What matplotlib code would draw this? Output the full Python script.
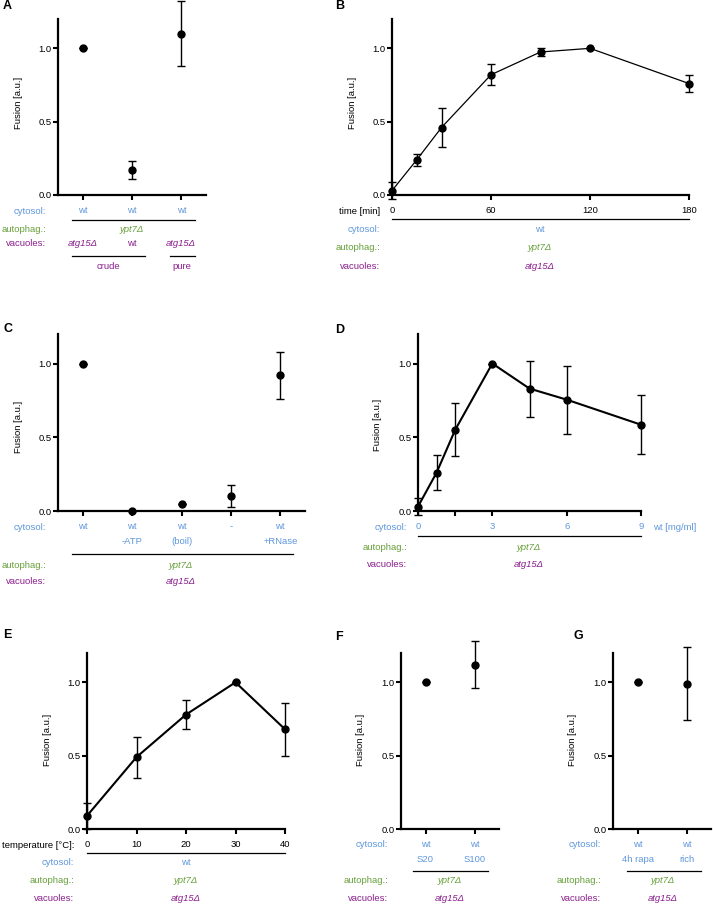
import os
import matplotlib
matplotlib.use('Agg')
import matplotlib.pyplot as plt
import matplotlib.font_manager as fm
from matplotlib.lines import Line2D

###
### Data
###
# A: cytosol / vacuole sources
a_x      = [0.5, 1.5, 2.5]
a_y      = [1.00, 0.17, 1.10]
a_err    = [0.00, 0.06, 0.22]
a_ticks  = ['wt', 'wt', 'wt']

# B: time course
b_time   = [0, 15, 30, 60, 90, 120, 180]
b_y      = [0.03, 0.24, 0.46, 0.82, 0.975, 1.00, 0.76]
b_err    = [0.06, 0.04, 0.13, 0.07, 0.03, 0.00, 0.06]

# C: cytosol treatments
c_x      = [0.5, 1.5, 2.5, 3.5, 4.5]
c_y      = [1.00, 0.00, 0.05, 0.10, 0.92]
c_err    = [0.00, 0.00, 0.00, 0.075, 0.16]
c_ticks  = ['wt', 'wt\n-ATP', 'wt\n(boil)', '-', 'wt\n+RNase']

# D: cytosol concentration
d_conc   = [0, 0.75, 1.5, 3, 4.5, 6, 9]
d_y      = [0.03, 0.26, 0.55, 1.00, 0.83, 0.755, 0.585]
d_err    = [0.06, 0.12, 0.18, 0.00, 0.19, 0.23, 0.20]

# E: temperature
e_temp   = [0, 10, 20, 30, 40]
e_y      = [0.09, 0.49, 0.78, 1.00, 0.68]
e_err    = [0.09, 0.14, 0.10, 0.00, 0.18]

# F: cytosol fractions
f_x      = [0.5, 1.5]
f_y      = [1.00, 1.12]
f_err    = [0.00, 0.16]
f_ticks  = ['wt\nS20', 'wt\nS100']

# G: cytosol growth condition
g_x      = [0.5, 1.5]
g_y      = [1.00, 0.99]
g_err    = [0.00, 0.25]
g_ticks  = ['wt\n4h rapa', 'wt\nrich']

###
### Fonts: look for a narrow sans, otherwise fall back to a smaller Liberation Sans
###
def find_font(names):
    for n in names:
        for f in fm.fontManager.ttflist:
            if os.path.basename(f.fname) == n:
                return f.fname
    return None

reg_file = find_font(['LiberationSansNarrow-Regular.ttf', 'NotoSans-SemiCondensed.ttf',
                      'NotoSans-Condensed.ttf', 'OpenSans-CondensedRegular.ttf'])
ita_file = find_font(['LiberationSansNarrow-Italic.ttf', 'NotoSans-SemiCondensedItalic.ttf',
                      'NotoSans-CondensedItalic.ttf', 'OpenSans-CondensedLightItalic.ttf'])
if reg_file and ita_file:
    FS = 7.2
    FP  = fm.FontProperties(fname=reg_file, size=FS)
    FPI = fm.FontProperties(fname=ita_file, size=FS)
else:
    FS = 6.8
    FP  = fm.FontProperties(family=['Liberation Sans', 'DejaVu Sans'], size=FS)
    FPI = fm.FontProperties(family=['Liberation Sans', 'DejaVu Sans'], style='italic', size=FS)

###
### Style
###
W, H   = 713, 905
BLUE   = '#5f97dc'
GREEN  = '#67a03a'
PURPLE = '#8a1f8c'
plt.rcParams['font.family'] = ['Liberation Sans', 'DejaVu Sans']

fig = plt.figure(figsize=(W/100, H/100), dpi=100)

def make_ax(x0, y0, x1, y1):
    # pixel box -> axes
    ax = fig.add_axes([x0/W, 1-y1/H, (x1-x0)/W, (y1-y0)/H])
    for s in ['top', 'right']:
        ax.spines[s].set_visible(False)
    for s in ['left', 'bottom']:
        ax.spines[s].set_linewidth(1.6)
    ax.set_ylim(0, 1.2)
    ax.set_yticks([0, 0.5, 1.0])
    ax.set_yticklabels(['0.0', '0.5', '1.0'], fontproperties=FP)
    ax.tick_params(axis='y', length=3.5, width=1.5, pad=1.0)
    ax.tick_params(axis='x', length=3.5, width=1.5, pad=4.2)
    ax.set_ylabel('Fusion [a.u.]', fontproperties=FP)
    return ax

def xticks(ax, pos, labels, color='k', ls=None):
    ax.set_xticks(pos)
    ax.set_xticklabels(labels, fontproperties=FP, color=color)
    if ls:
        for t in ax.get_xticklabels():
            t.set_linespacing(ls)

def ylab(ax, x, y, x0, y0, x1, y1):
    ax.yaxis.set_label_coords((x-x0)/(x1-x0), (y1-y)/(y1-y0))

def ftext(x, y, s, color='k', ha='center', italic=False):
    fig.text(x/W, 1-y/H, s, ha=ha, va='center', color=color,
             fontproperties=FPI if italic else FP)

def fline(x0, x1, y):
    fig.add_artist(Line2D([x0/W, x1/W], [1-y/H, 1-y/H], color='k', lw=0.9))

def points(ax, x, y, err, lw=None):
    if lw is not None:
        ax.plot(x, y, color='k', lw=lw, clip_on=False, zorder=2)
    ax.errorbar(x, y, yerr=err, fmt='o', color='k', ms=5, capsize=3,
                elinewidth=1.0, capthick=1.0, clip_on=False, zorder=3)

def panel_label(x, y, s):
    fig.text(x/W, 1-y/H, s, ha='left', va='center', fontsize=9,
             fontweight='bold', family=['Liberation Sans', 'DejaVu Sans'])

###
### A
###
box = (58, 19, 206, 195)
ax = make_ax(*box)
points(ax, a_x, a_y, a_err)
ax.set_xlim(0, 3)
xticks(ax, a_x, a_ticks, BLUE)
ylab(ax, 23, 103, *box)
panel_label(3, 6, 'A')
ftext(46, 211, 'cytosol:', BLUE, ha='right')
fline(72, 195, 220)
ftext(46, 229, 'autophag.:', GREEN, ha='right')
ftext(132, 229, 'ypt7Δ', GREEN, italic=True)
ftext(46, 243, 'vacuoles:', PURPLE, ha='right')
ftext(83, 243, 'atg15Δ', PURPLE, italic=True)
ftext(132, 243, 'wt', PURPLE)
ftext(181, 243, 'atg15Δ', PURPLE, italic=True)
fline(72, 145, 256)
fline(170, 195, 256)
ftext(108, 266, 'crude', PURPLE)
ftext(182, 266, 'pure', PURPLE)

###
### B
###
box = (392, 19, 689, 195)
ax = make_ax(*box)
points(ax, b_time, b_y, b_err, lw=0.9)
ax.set_xlim(0, 180)
xticks(ax, [0, 60, 120, 180], ['0', '60', '120', '180'])
ylab(ax, 357, 103, *box)
panel_label(335, 6, 'B')
ftext(380, 211, 'time [min]', 'k', ha='right')
fline(392, 689, 219)
ftext(380, 229, 'cytosol:', BLUE, ha='right')
ftext(540, 229, 'wt', BLUE)
ftext(380, 247, 'autophag.:', GREEN, ha='right')
ftext(540, 247, 'ypt7Δ', GREEN, italic=True)
ftext(380, 266, 'vacuoles:', PURPLE, ha='right')
ftext(540, 266, 'atg15Δ', PURPLE, italic=True)

###
### C
###
box = (58, 334, 305, 511)
ax = make_ax(*box)
points(ax, c_x, c_y, c_err)
ax.set_xlim(0, 5)
xticks(ax, c_x, c_ticks, BLUE, ls=1.95)
ylab(ax, 23, 427, *box)
panel_label(3, 329, 'C')
ftext(46, 528, 'cytosol:', BLUE, ha='right')
fline(72, 293, 554)
ftext(46, 565, 'autophag.:', GREEN, ha='right')
ftext(181, 565, 'ypt7Δ', GREEN, italic=True)
ftext(46, 582, 'vacuoles:', PURPLE, ha='right')
ftext(181, 582, 'atg15Δ', PURPLE, italic=True)

###
### D
###
box = (418, 334, 641, 511)
ax = make_ax(*box)
points(ax, d_conc, d_y, d_err, lw=1.5)
ax.set_xlim(0, 9)
xticks(ax, [0, 1.5, 3, 6, 9], ['0', '', '3', '6', '9'], BLUE)
ylab(ax, 382, 425, *box)
panel_label(335, 330, 'D')
ftext(407, 528, 'cytosol:', BLUE, ha='right')
ftext(653, 528, 'wt [mg/ml]', BLUE, ha='left')
fline(418, 641, 536)
ftext(407, 547, 'autophag.:', GREEN, ha='right')
ftext(529, 547, 'ypt7Δ', GREEN, italic=True)
ftext(407, 564, 'vacuoles:', PURPLE, ha='right')
ftext(529, 564, 'atg15Δ', PURPLE, italic=True)

###
### E
###
box = (87, 653, 285, 829)
ax = make_ax(*box)
points(ax, e_temp, e_y, e_err, lw=1.5)
ax.set_xlim(0, 40)
xticks(ax, e_temp, [str(t) for t in e_temp])
ylab(ax, 52, 740, *box)
panel_label(3, 635, 'E')
ftext(74, 845, 'temperature [°C]:', 'k', ha='right')
fline(87, 285, 853)
ftext(74, 862, 'cytosol:', BLUE, ha='right')
ftext(186, 862, 'wt', BLUE)
ftext(74, 880, 'autophag.:', GREEN, ha='right')
ftext(186, 880, 'ypt7Δ', GREEN, italic=True)
ftext(74, 898, 'vacuoles:', PURPLE, ha='right')
ftext(186, 898, 'atg15Δ', PURPLE, italic=True)

###
### F
###
box = (401, 653, 499, 829)
ax = make_ax(*box)
points(ax, f_x, f_y, f_err)
ax.set_xlim(0, 2)
xticks(ax, f_x, f_ticks, BLUE, ls=1.95)
ylab(ax, 365, 740, *box)
panel_label(335, 637, 'F')
ftext(388, 844, 'cytosol:', BLUE, ha='right')
fline(413, 488, 871)
ftext(388, 880, 'autophag.:', GREEN, ha='right')
ftext(450, 880, 'ypt7Δ', GREEN, italic=True)
ftext(388, 898, 'vacuoles:', PURPLE, ha='right')
ftext(450, 898, 'atg15Δ', PURPLE, italic=True)

###
### G
###
box = (613, 653, 711, 829)
ax = make_ax(*box)
points(ax, g_x, g_y, g_err)
ax.set_xlim(0, 2)
xticks(ax, g_x, g_ticks, BLUE, ls=1.95)
ylab(ax, 577, 740, *box)
panel_label(573, 636, 'G')
ftext(601, 844, 'cytosol:', BLUE, ha='right')
fline(627, 701, 871)
ftext(601, 880, 'autophag.:', GREEN, ha='right')
ftext(663, 880, 'ypt7Δ', GREEN, italic=True)
ftext(601, 898, 'vacuoles:', PURPLE, ha='right')
ftext(663, 898, 'atg15Δ', PURPLE, italic=True)

###
### Output
###
fig.savefig('out.png', dpi=100)
